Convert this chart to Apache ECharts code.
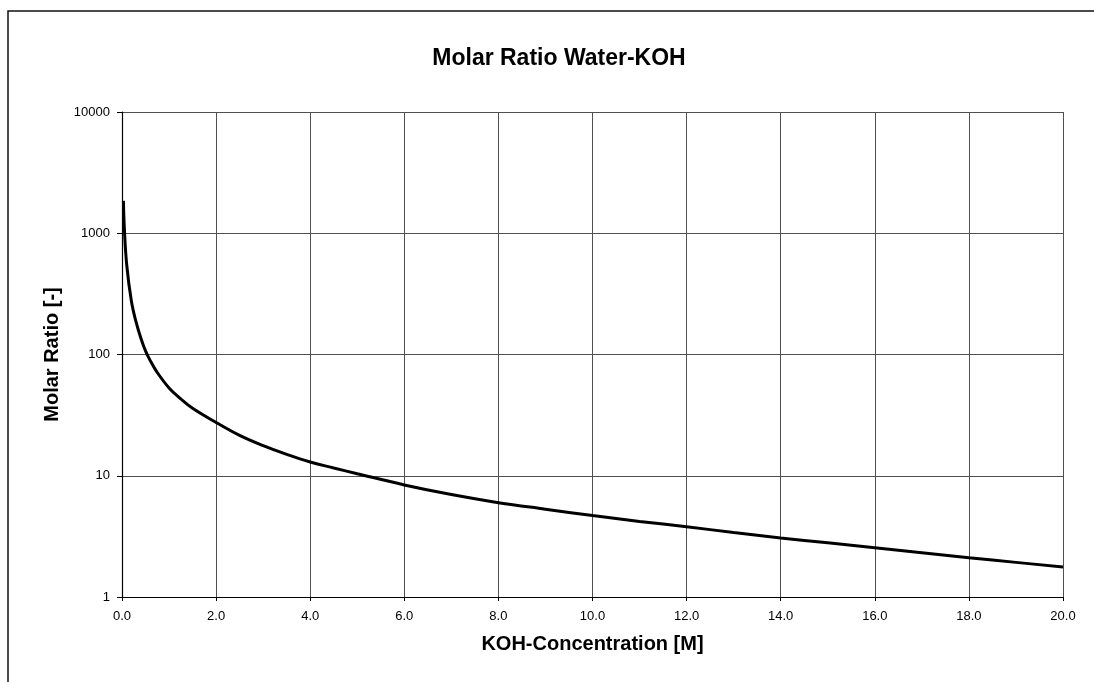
<!DOCTYPE html>
<html>
<head>
<meta charset="utf-8">
<title>Molar Ratio Water-KOH</title>
<script src="https://cdn.jsdelivr.net/npm/echarts@6/dist/echarts.min.js"></script>
<style>
  html, body { margin: 0; padding: 0; background: #fff; }
  #chart { width: 1094px; height: 682px; }
</style>
</head>
<body>
<div id="chart"></div>
<script>
// KOH concentration [M] and molar ratio water/KOH [-]
const concentration = [0.03, 0.05, 0.1, 0.2, 0.3, 0.4, 0.5, 0.6, 0.75, 1.0, 1.25, 1.5, 2.0, 2.5, 3.0, 3.5, 4.0, 4.5, 5.0, 6.0, 7.0, 8.0, 9.0, 10.0, 11.0, 12.0, 13.0, 14.0, 15.0, 16.0, 17.0, 18.0, 19.0, 20.0];
const molarRatio = [1850, 1100, 550, 275, 185, 137, 107, 89, 71, 53, 43, 36, 27.5, 21.5, 17.7, 15.0, 13.0, 11.6, 10.4, 8.4, 7.0, 6.0, 5.3, 4.7, 4.2, 3.8, 3.4, 3.07, 2.8, 2.55, 2.32, 2.11, 1.93, 1.77];

const xTicks = [0, 20, 2];   // min, max, interval
const yRange = [1, 10000];

const chart = echarts.init(document.getElementById('chart'));

const font = '"Liberation Sans", Arial, sans-serif';

const option = {
  backgroundColor: '#fff',
  animation: false,
  title: {
    text: 'Molar Ratio Water-KOH',
    left: 554,
    textAlign: 'center',
    top: 42,
    textStyle: {
      fontFamily: font,
      fontSize: 23,
      fontWeight: 'bold',
      color: '#000'
    }
  },
  graphic: [
    // outer frame (left and top edges visible)
    {
      type: 'polyline',
      shape: { points: [[8, 700], [8, 11], [1100, 11]] },
      style: { stroke: '#111', lineWidth: 1.5, fill: null }
    }
  ],
  grid: {
    left: 122,
    right: 31,
    top: 112,
    bottom: 85
  },
  xAxis: {
    type: 'value',
    min: xTicks[0],
    max: xTicks[1],
    interval: xTicks[2],
    name: 'KOH-Concentration [M]',
    nameLocation: 'middle',
    nameGap: 37,
    nameTextStyle: {
      fontFamily: font,
      fontSize: 20,
      fontWeight: 'bold',
      color: '#000'
    },
    axisLine: { lineStyle: { color: '#000', width: 1.2 } },
    axisTick: { show: true, length: 4, inside: false, lineStyle: { color: '#000' } },
    axisLabel: {
      fontFamily: font,
      fontSize: 13,
      color: '#000',
      margin: 13,
      formatter: (v) => v.toFixed(1)
    },
    splitLine: { show: true, lineStyle: { color: '#505050', width: 1 } }
  },
  yAxis: {
    type: 'log',
    logBase: 10,
    min: yRange[0],
    max: yRange[1],
    name: 'Molar Ratio [-]',
    nameLocation: 'middle',
    nameGap: 60,
    nameTextStyle: {
      fontFamily: font,
      fontSize: 20,
      fontWeight: 'bold',
      color: '#000'
    },
    axisLine: { show: true, lineStyle: { color: '#000', width: 1.2 } },
    axisTick: { show: true, length: 5, inside: false, lineStyle: { color: '#000' } },
    axisLabel: {
      fontFamily: font,
      fontSize: 13,
      color: '#000',
      margin: 12,
      formatter: (v) => String(Math.round(v))
    },
    splitLine: { show: true, lineStyle: { color: '#505050', width: 1 } },
    minorTick: { show: false },
    minorSplitLine: { show: false }
  },
  series: [{
    type: 'line',
    data: concentration.map((c, i) => [c, molarRatio[i]]),
    smooth: 0.4,
    showSymbol: false,
    symbol: 'none',
    lineStyle: { color: '#000', width: 3 }
  }]
};

chart.setOption(option);
</script>
</body>
</html>
